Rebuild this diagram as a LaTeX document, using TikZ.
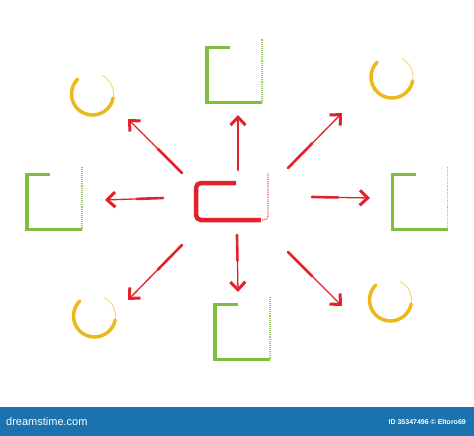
\documentclass[tikz,border=0pt]{standalone}
\usepackage{fontspec}
\setmainfont{Liberation Sans}
\usetikzlibrary{arrows.meta,calc}
\definecolor{brred}{HTML}{E1222B}
\definecolor{brgreen}{HTML}{7EBF3E}
\definecolor{bryellow}{HTML}{EDB91A}
\definecolor{dtblue}{HTML}{1A73AE}
\begin{document}
\begin{tikzpicture}[x=1pt,y=-1pt,
  sqbox/.style={minimum width=55pt,minimum height=55pt,inner sep=0pt,outer sep=0pt},
  circbox/.style={circle,minimum size=42pt,inner sep=0pt,outer sep=0pt},
  cbox/.style={minimum width=72pt,minimum height=37pt,inner sep=0pt,outer sep=0pt},
  gthick/.style={draw=brgreen,line width=3.5pt,line join=miter},
  gthin/.style={draw=brgreen!80,line width=1.1pt,densely dotted},
  ythick/.style={draw=bryellow,line width=3.5pt,line cap=round},
  ythin/.style={draw=bryellow!60,line width=0.9pt},
  rthick/.style={draw=brred,line width=4.5pt,rounded corners=5pt},
  rthin/.style={draw=brred!75,line width=1.2pt,densely dotted,rounded corners=4pt},
  rshaft/.style={draw=brred,line width=1.3pt,-{Straight Barb[length=8pt,width=15pt,line width=3pt]}},
  rtail/.style={draw=brred,line width=2.6pt,line cap=round},
  logo/.style={text=white,font=\fontsize{11}{12}\selectfont,anchor=west,inner sep=0pt},
  credit/.style={text=white,font=\bfseries\fontsize{7}{8}\selectfont,anchor=east,inner sep=0pt}]
\useasboundingbox (0,0) rectangle (474,436);
\fill[white] (0,0) rectangle (474,407);
\fill[dtblue] (0,407) rectangle (474,436);
\node[logo] (brand) at (6,422) {dreamstime.com};
\node[credit] (cred) at (466,422) {ID 35347496 \textcopyright{} Eltoro69};

% center box
\node[cbox] (c) at (232,201.5) {};
\draw[rthick] ([xshift=40pt]c.north west) -- (c.north west) -- (c.south west) -- ([xshift=-7pt]c.south east);
\draw[rthin] ([xshift=-8pt]c.south east) -- (c.south east) -- ([yshift=10pt]c.north east);

% squares
\node[sqbox] (sqt) at (234.5,75) {};
\node[sqbox] (sqb) at (242.5,332) {};
\node[sqbox] (sql) at (54.5,202) {};
\node[sqbox] (sqr) at (420,202) {};
\foreach \s in {sqt,sqb,sql,sqr}{
  \draw[gthick] ([xshift=23pt]\s.north west) -- (\s.north west) -- (\s.south west) -- (\s.south east);
  \draw[gthin] ([yshift=8pt]\s.north east) -- (\s.south east);
}

% circles
\node[circbox] (ctl) at (92.5,94) {};
\node[circbox] (ctr) at (392,77) {};
\node[circbox] (cbl) at (94.5,316) {};
\node[circbox] (cbr) at (390.5,300) {};
\foreach \s in {ctl,ctr,cbl,cbr}{
  \draw[ythick] (\s.135) arc[start angle=135,end angle=350,radius=21pt];
  \draw[ythin] (\s.350) arc[start angle=-10,end angle=62,radius=21pt];
}

% arrows
\coordinate (tu) at (238,170);  \coordinate (hu) at (238,115);
\coordinate (td) at (237,235);  \coordinate (hd) at (238,292);
\coordinate (tl) at (163,198);  \coordinate (hl) at (105,200);
\coordinate (tr) at (312,197);  \coordinate (hr) at (370,198);
\coordinate (tul) at (182,173); \coordinate (hul) at (128,119);
\coordinate (tur) at (288,168); \coordinate (hur) at (342,113);
\coordinate (tdl) at (182,245); \coordinate (hdl) at (128,300);
\coordinate (tdr) at (288,252); \coordinate (hdr) at (342,306);
\foreach \a/\b in {tu/hu,td/hd,tl/hl,tr/hr,tul/hul,tur/hur,tdl/hdl,tdr/hdr}{
  \draw[rshaft] (\a) -- (\b);
  \draw[rtail] (\a) -- ($(\a)!0.45!(\b)$);
}
\end{tikzpicture}
\end{document}
